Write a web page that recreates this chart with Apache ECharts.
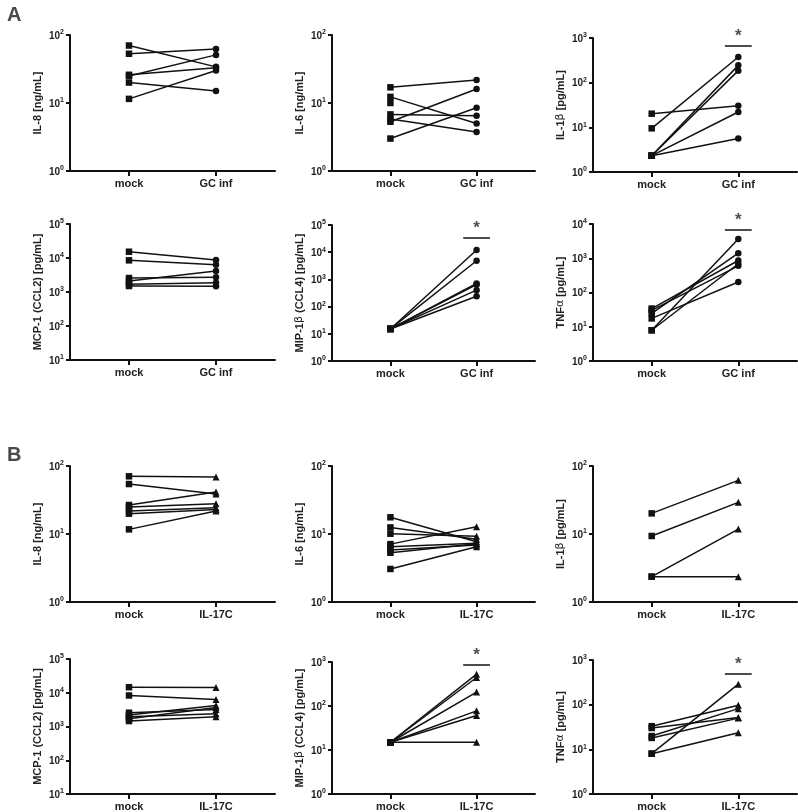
<!DOCTYPE html>
<html><head><meta charset="utf-8">
<script src="https://cdn.jsdelivr.net/npm/echarts@6/dist/echarts.min.js"></script>
<style>html,body{margin:0;padding:0;background:#fff}#c{width:798px;height:812px}</style>
</head><body><div id="c"></div>
<script>
// ---------- categories ----------
const catsA = ['mock', 'GC inf'];
const catsB = ['mock', 'IL-17C'];

// ---------- data: panel A (mock vs GC inf) ----------
const il8A_mock  = [70, 53, 26, 25, 20, 11.5];
const il8A_gc    = [34, 62, 33, 51, 15, 30];
const il6A_mock  = [17, 12.3, 10, 6.8, 5.3, 5.8, 3.0];
const il6A_gc    = [21.8, 5.0, null, 6.5, 16.1, 3.75, 8.5];
const il1bA_mock = [20.2, 9.5, 2.32, 2.32, 2.32, 2.32];
const il1bA_gc   = [30.5, 376, 244, 186, 22, 5.6];
const mcp1A_mock = [15300, 8540, 2100, 2580, 1700, 1500];
const mcp1A_gc   = [8700, 6370, 4150, 2700, 1880, 1470];
const mip1bA_mock= [15.1, 15.1, 15.1, 15.1, 15.1, 15.1];
const mip1bA_gc  = [12000, 4850, 708, 640, 402, 241];
const tnfA_mock  = [34, 30, 24.5, 17.5, 7.9, 7.9];
const tnfA_gc    = [860, 600, 1410, 203, 3630, 690];

// ---------- data: panel B (mock vs IL-17C) ----------
const il8B_mock  = [70.5, 54.3, 26.7, 25, 21.8, 19.9, 11.7];
const il8B_il17  = [68.7, 38.8, 41.5, 27.9, 24.4, 23, 21.8];
const il6B_mock  = [17.6, 12.5, 10.1, 7.1, 6.5, 5.8, 5.3, 3.06];
const il6B_il17  = [7.7, 8.35, 9.3, 12.8, 7.3, 6.9, 7.2, 6.5];
const il1bB_mock = [20.1, 9.35, 2.36, 2.36];
const il1bB_il17 = [61.5, 29.2, 11.8, 2.36];
const mcp1B_mock = [14600, 8300, 2560, 2190, 1950, 1700, 1450];
const mcp1B_il17 = [14300, 6330, 3200, 4210, 2390, 3670, 1950];
const mip1bB_mock= [15, 15, 15, 15, 15, 15];
const mip1bB_il17= [528, 444, 207, 77.6, 61, 15];
const tnfB_mock  = [8, 33, 19.8, 30, 18, 8];
const tnfB_il17  = [288, 96.6, 81.5, 51.5, 50, 23.4];

// ---------- significance bar levels (null = none) ----------
const sigLevels = [null, null, 662, null, 33000, 6680, null, null, null, null, 855, 489];

// ---------- axis ranges ----------
const yMins = [1, 1, 1, 10, 1, 1, 1, 1, 1, 10, 1, 1];
const yMaxs = [100, 100, 1000, 1e5, 1e5, 1e4, 100, 100, 100, 1e5, 1000, 1000];
const yNames = ['IL-8 [ng/mL]', 'IL-6 [ng/mL]', 'IL-1{g|β} [pg/mL]',
  'MCP-1 (CCL2) [pg/mL]', 'MIP-1{g|β} (CCL4) [pg/mL]', 'TNF{g|α} [pg/mL]',
  'IL-8 [ng/mL]', 'IL-6 [ng/mL]', 'IL-1{g|β} [pg/mL]',
  'MCP-1 (CCL2) [pg/mL]', 'MIP-1{g|β} (CCL4) [pg/mL]', 'TNF{g|α} [pg/mL]'];

const mockSets  = [il8A_mock, il6A_mock, il1bA_mock, mcp1A_mock, mip1bA_mock, tnfA_mock,
                   il8B_mock, il6B_mock, il1bB_mock, mcp1B_mock, mip1bB_mock, tnfB_mock];
const treatSets = [il8A_gc, il6A_gc, il1bA_gc, mcp1A_gc, mip1bA_gc, tnfA_gc,
                   il8B_il17, il6B_il17, il1bB_il17, mcp1B_il17, mip1bB_il17, tnfB_il17];

// ---------- layout ----------
const grids = [
  [70, 35, 205, 136], [332, 35, 203, 136], [593, 38, 204, 134],
  [70, 224, 205, 136], [332, 225, 203, 136], [593, 224, 204, 137],
  [70, 466, 205, 136], [332, 466, 203, 136], [593, 466, 204, 136],
  [70, 659, 205, 136], [332, 662, 203, 133], [593, 660, 204, 135]
];

const FONT = "'Liberation Sans', Arial, sans-serif";
const TXT = '#222';
const options = {
  animation: false,
  backgroundColor: '#fff',
  title: [
    {text: 'A', left: 2, top: 0, textStyle: {fontSize: 20, fontWeight: 'bold', color: '#4a4a4a', fontFamily: FONT}},
    {text: 'B', left: 2, top: 440, textStyle: {fontSize: 20, fontWeight: 'bold', color: '#4a4a4a', fontFamily: FONT}}
  ],
  grid: [], xAxis: [], yAxis: [], series: []
};

grids.forEach((g, p) => {
  const cats = p < 6 ? catsA : catsB;
  options.grid.push({left: g[0], top: g[1], width: g[2], height: g[3], containLabel: false});
  options.xAxis.push({
    type: 'value', gridIndex: p, min: -0.678, max: 1.678,
    splitLine: {show: false},
    axisLine: {show: true, onZero: false, lineStyle: {color: '#111', width: 2}},
    axisTick: {show: true, customValues: [0, 1], length: 5, lineStyle: {color: '#111', width: 2}},
    axisLabel: {show: true, customValues: [0, 1], margin: 7,
      formatter: v => cats[Math.round(v)],
      fontSize: 11, fontWeight: 'bold', color: TXT, fontFamily: FONT}
  });
  options.yAxis.push({
    type: 'log', logBase: 10, gridIndex: p, min: yMins[p], max: yMaxs[p],
    name: yNames[p], nameLocation: 'middle', nameGap: 27,
    nameTextStyle: {fontSize: 11, fontWeight: 'bold', color: TXT, fontFamily: FONT,
      rich: {g: {fontSize: 11, fontWeight: 'normal', color: TXT, fontFamily: 'DejaVu Sans'}}},
    splitLine: {show: false}, minorTick: {show: false},
    axisLine: {show: true, onZero: false, lineStyle: {color: '#111', width: 2}},
    axisTick: {show: true, length: 4, lineStyle: {color: '#111', width: 2}},
    axisLabel: {margin: 6,
      formatter: v => '{b|10}{s|' + Math.round(Math.log10(v)) + '}',
      rich: {
        b: {fontSize: 10, fontWeight: 'bold', color: TXT, fontFamily: FONT, lineHeight: 12, verticalAlign: 'bottom'},
        s: {fontSize: 7, fontWeight: 'bold', color: TXT, fontFamily: FONT, lineHeight: 10, verticalAlign: 'top'}
      }}
  });
  const treatSym = p < 6 ? 'circle' : 'triangle';
  const m = mockSets[p], t = treatSets[p];
  for (let i = 0; i < m.length; i++) {
    options.series.push({
      type: 'line', xAxisIndex: p, yAxisIndex: p, silent: true,
      data: [[0, m[i]], [1, t[i] == null ? '-' : t[i]]],
      symbol: v => (v[0] === 0 ? 'rect' : treatSym),
      symbolSize: v => (v[0] === 0 ? 6.5 : (treatSym === 'triangle' ? 7 : 6.5)),
      showSymbol: true,
      lineStyle: {color: '#111', width: 1.5},
      itemStyle: {color: '#111'}
    });
  }
  if (sigLevels[p] != null) {
    options.series.push({
      type: 'line', xAxisIndex: p, yAxisIndex: p, silent: true, symbol: 'none',
      data: [[1 - 0.155, sigLevels[p]], [1 + 0.155, sigLevels[p]]],
      lineStyle: {color: '#111', width: 1.5}
    });
    options.series.push({
      type: 'scatter', xAxisIndex: p, yAxisIndex: p, silent: true, symbolSize: 0,
      data: [[1, sigLevels[p]]],
      label: {show: true, position: 'top', distance: 1, formatter: '*',
        fontSize: 17, fontWeight: 'bold', color: TXT, fontFamily: FONT}
    });
  }
});

const chart = echarts.init(document.getElementById('c'), null, {renderer: 'canvas'});
chart.setOption(options);
</script>
</body></html>
